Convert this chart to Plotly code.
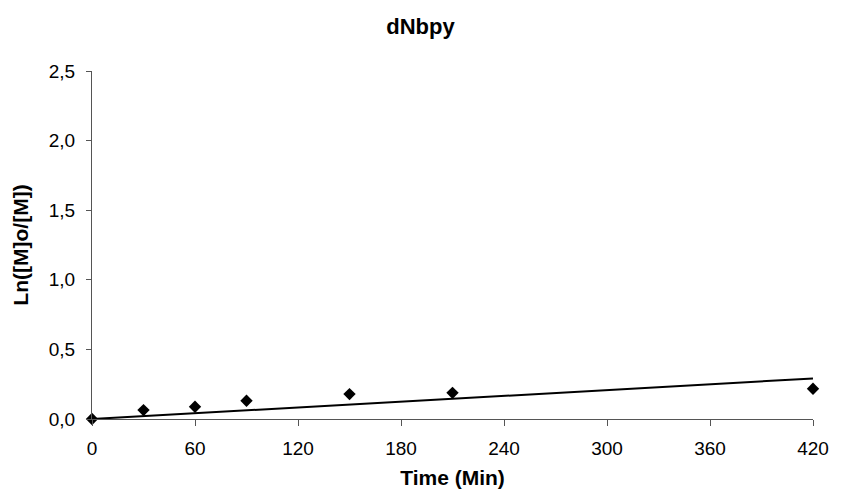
import plotly.graph_objects as go

time_min = [0, 30, 60, 90, 150, 210, 420]
ln_ratio = [0.0, 0.064, 0.088, 0.131, 0.179, 0.188, 0.217]
trend_x = [0, 420]
trend_y = [0.0, 0.291]
x_ticks = [0, 60, 120, 180, 240, 300, 360, 420]
y_ticks = [0.0, 0.5, 1.0, 1.5, 2.0, 2.5]

fig = go.Figure()
fig.add_trace(go.Scatter(x=trend_x, y=trend_y, mode="lines",
                         line=dict(color="black", width=2), showlegend=False))
fig.add_trace(go.Scatter(x=time_min, y=ln_ratio, mode="markers",
                         marker=dict(symbol="diamond", size=9.5, color="black"),
                         showlegend=False, cliponaxis=False))

font = "Liberation Sans, Arial, sans-serif"
fig.update_layout(
    width=841, height=499,
    margin=dict(l=92, r=20, t=71, b=80),
    paper_bgcolor="white", plot_bgcolor="white",
    separators=", ",
    title=dict(text="<b>dNbpy</b>", x=0.5, xref="container", xanchor="center",
               y=1 - 26/499, yanchor="middle",
               font=dict(family=font, size=22, color="black")),
    font=dict(family=font, size=19, color="black"),
    xaxis=dict(range=[0, 420], tickvals=x_ticks, ticks="outside", ticklen=6,
               tickcolor="#555", showline=True, linecolor="#555", linewidth=1,
               showgrid=False, zeroline=False, tickfont=dict(size=19),
               ticklabelstandoff=6,
               title=dict(text="<b>Time (Min)</b>", font=dict(size=21), standoff=12)),
    yaxis=dict(range=[0, 2.5], tickvals=y_ticks, tickformat=".1f", ticks="outside",
               ticklen=5, tickcolor="#555", showline=True, linecolor="#555", linewidth=1,
               showgrid=False, zeroline=False, tickfont=dict(size=19),
               ticklabelstandoff=7,
               title=dict(text="<b>Ln([M]o/[M])</b>", font=dict(size=21), standoff=14)),
)
fig.write_html("out.html")
